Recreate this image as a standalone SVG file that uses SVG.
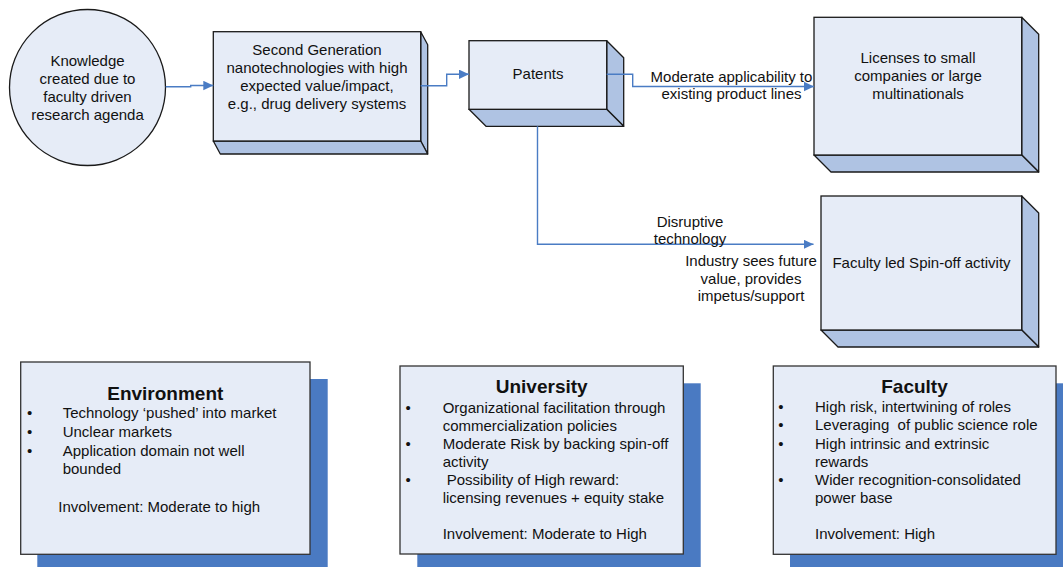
<svg xmlns="http://www.w3.org/2000/svg" width="1063" height="567" viewBox="0 0 1063 567">
<style>
text{font-family:"Liberation Sans",Arial,sans-serif;font-size:15px;fill:#111}
.c{text-anchor:middle}
.t{font-weight:bold;font-size:19px;text-anchor:middle}
.face{fill:#E6ECF7;stroke:#1a1a1a;stroke-width:1.3}
.dep{fill:#AFC3E3;stroke:#1a1a1a;stroke-width:1.3;stroke-linejoin:round}
.shadow{fill:#4A7AC2}
.card{fill:#E6ECF7;stroke:#333;stroke-width:1.3}
.conn{fill:none;stroke:#4A7CC4;stroke-width:1.4}
.pre{white-space:pre}
</style>
<defs>
<marker id="arr" markerUnits="userSpaceOnUse" markerWidth="11" markerHeight="10" refX="10" refY="4.7" orient="auto">
<path d="M0,0 L10,4.7 L0,9.4 Z" fill="#4A7CC4"/>
</marker>
</defs>

<g id="knowledge">
<circle cx="87.5" cy="87.5" r="78" class="face"/>
<text class="c" x="87.5" y="66">Knowledge</text>
<text class="c" x="87.5" y="84">created due to</text>
<text class="c" x="87.5" y="102">faculty driven</text>
<text class="c" x="87.5" y="120">research agenda</text>
</g>

<g id="second-generation">
<polygon class="dep" points="420.7,31.7 427.7,44.7 427.7,154 420.7,141"/>
<polygon class="dep" points="213.3,141 420.7,141 427.7,154 220.3,154"/>
<rect class="face" x="213.3" y="31.7" width="207.4" height="109.3"/>
<text class="c" x="317" y="55">Second Generation</text>
<text class="c" x="317" y="73">nanotechnologies with high</text>
<text class="c" x="317" y="91">expected value/impact,</text>
<text class="c" x="317" y="109">e.g., drug delivery systems</text>
</g>

<g id="patents">
<polygon class="dep" points="606.7,40.7 623.7,57.7 623.7,126.3 606.7,109.3"/>
<polygon class="dep" points="469,109.3 606.7,109.3 623.7,126.3 486,126.3"/>
<rect class="face" x="469" y="40.7" width="137.7" height="68.6"/>
<text class="c" x="538" y="78.5">Patents</text>
</g>

<g id="licenses">
<polygon class="dep" points="1021.7,17.3 1038.7,34.3 1038.7,172 1021.7,155"/>
<polygon class="dep" points="814,155 1021.7,155 1038.7,172 831,172"/>
<rect class="face" x="814" y="17.3" width="207.7" height="137.7"/>
<text class="c" x="918" y="63">Licenses to small</text>
<text class="c" x="918" y="81">companies or large</text>
<text class="c" x="918" y="99">multinationals</text>
</g>

<g id="spinoff">
<polygon class="dep" points="1021.7,196 1038.7,213 1038.7,347 1021.7,330"/>
<polygon class="dep" points="821,330 1021.7,330 1038.7,347 838,347"/>
<rect class="face" x="821" y="196" width="200.7" height="134"/>
<text class="c" x="921.5" y="268">Faculty led Spin-off activity</text>
</g>

<g id="connectors">
<path class="conn" d="M165.7,86.7 H190.7 V85.5 H213.3" marker-end="url(#arr)"/>
<path class="conn" d="M420.7,85.7 H446.7 V74.3 H469" marker-end="url(#arr)"/>
<path class="conn" d="M606.7,74.3 H632.7 V86.5 H814" marker-end="url(#arr)"/>
<path class="conn" d="M537.5,126.3 V244.3 H813.5" marker-end="url(#arr)"/>
<text class="c" x="731.5" y="82">Moderate applicability to</text>
<text class="c" x="731.5" y="99">existing product lines</text>
<text class="c" x="690" y="227">Disruptive</text>
<text class="c" x="690" y="244">technology</text>
<text class="c" x="751" y="266">Industry sees future</text>
<text class="c" x="751" y="283.5">value, provides</text>
<text class="c" x="751" y="301">impetus/support</text>
</g>

<g id="environment">
<rect class="shadow" x="37.3" y="379" width="290.4" height="188"/>
<rect class="card" x="20.7" y="362" width="289.3" height="192.3"/>
<text class="t" x="165.3" y="400">Environment</text>
<text x="27" y="418.3">•</text><text x="62.7" y="418.3">Technology ‘pushed’ into market</text>
<text x="27" y="437">•</text><text x="62.7" y="437">Unclear markets</text>
<text x="27" y="455.6">•</text><text x="62.7" y="455.6">Application domain not well</text>
<text x="62.7" y="474.2">bounded</text>
<text x="58.3" y="511.6">Involvement: Moderate to high</text>
</g>

<g id="university">
<rect class="shadow" x="417.3" y="383.3" width="283.4" height="183.7"/>
<rect class="card" x="400" y="366" width="283.3" height="188"/>
<text class="t" x="541.7" y="392.7">University</text>
<text x="405.5" y="413">•</text><text x="442.7" y="413">Organizational facilitation through</text>
<text x="442.7" y="431">commercialization policies</text>
<text x="405.5" y="449">•</text><text x="442.7" y="449">Moderate Risk by backing spin-off</text>
<text x="442.7" y="467">activity</text>
<text x="405.5" y="485">•</text><text x="446.7" y="485">Possibility of High reward:</text>
<text x="442.7" y="503">licensing revenues + equity stake</text>
<text x="442.7" y="539.3">Involvement: Moderate to High</text>
</g>

<g id="faculty">
<rect class="shadow" x="790" y="383.3" width="273" height="183.7"/>
<rect class="card" x="773.3" y="366" width="282.7" height="188.3"/>
<text class="t" x="914.5" y="392.7">Faculty</text>
<text x="778.2" y="411.7">•</text><text x="815" y="411.7">High risk, intertwining of roles</text>
<text x="778.2" y="430">•</text><text x="815" y="430" class="pre" xml:space="preserve">Leveraging  of public science role</text>
<text x="778.2" y="448.5">•</text><text x="815" y="448.5">High intrinsic and extrinsic</text>
<text x="815" y="466.7">rewards</text>
<text x="778.2" y="485">•</text><text x="815" y="485">Wider recognition-consolidated</text>
<text x="815" y="503.3">power base</text>
<text x="815" y="539.3">Involvement: High</text>
</g>
</svg>
